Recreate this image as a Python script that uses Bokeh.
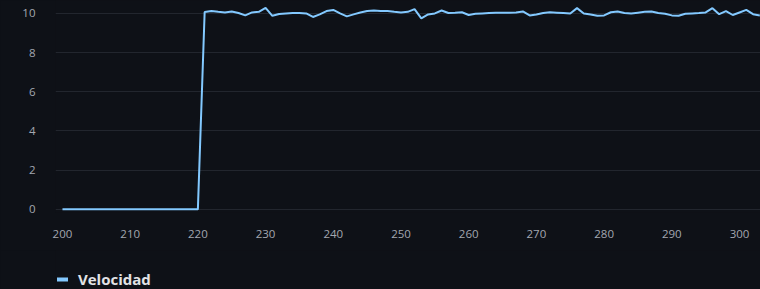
from bokeh.plotting import figure
from bokeh.models import Range1d, Legend, LegendItem, FixedTicker
from bokeh.layouts import column
from bokeh.embed import file_html
from bokeh.resources import INLINE

# ---- data ----
tiempo = list(range(200, 304))
velocidad = [0.0] * 21 + [
    10.07, 10.12, 10.08, 10.05, 10.10, 10.02, 9.90, 10.05, 10.08, 10.28,
    9.88, 9.97, 10.00, 10.02, 10.02, 10.00, 9.82, 9.95, 10.12, 10.18,
    10.00, 9.85, 9.95, 10.05, 10.12, 10.15, 10.13, 10.12, 10.08, 10.05,
    10.08, 10.22, 9.75, 9.95, 10.00, 10.15, 10.02, 10.03, 10.06, 9.92,
    9.98, 10.00, 10.02, 10.03, 10.03, 10.04, 10.05, 10.10, 9.90, 9.95,
    10.02, 10.06, 10.04, 10.02, 10.00, 10.27, 10.00, 9.95, 9.88, 9.90,
    10.06, 10.10, 10.02, 10.00, 10.04, 10.08, 10.10, 10.02, 9.98, 9.90,
    9.88, 9.98, 10.00, 10.02, 10.05, 10.27, 9.96, 10.12, 9.92, 10.05,
    10.18, 9.96, 9.90,
]
serie = "Velocidad"
x_ticks = [200, 210, 220, 230, 240, 250, 260, 270, 280, 290, 300]
y_ticks = [0, 2, 4, 6, 8, 10]

BG = "#0e1117"
LINE = "#83c9ff"

p = figure(width=760, height=250, output_backend="svg", toolbar_location=None,
           x_range=Range1d(198.97, 303.1), y_range=Range1d(-0.16, 10.66),
           background_fill_color=BG, border_fill_color=BG,
           min_border_left=55, min_border_right=0, min_border_top=0,
           min_border_bottom=38)
p.outline_line_color = None
p.styles = {"background-color": BG}

p.line(tiempo[:len(velocidad)], velocidad, line_color=LINE, line_width=2)

for ax in (p.xaxis[0], p.yaxis[0]):
    ax.axis_line_color = None
    ax.major_tick_line_color = None
    ax.minor_tick_line_color = None
    ax.major_tick_out = 0
    ax.major_tick_in = 0
    ax.major_label_text_color = "#a3a7b0"
    ax.major_label_text_font = "Open Sans"
    ax.major_label_text_font_size = "11.5px"

p.xaxis[0].ticker = FixedTicker(ticks=x_ticks)
p.yaxis[0].ticker = FixedTicker(ticks=y_ticks)
p.xaxis[0].major_label_standoff = 17
p.yaxis[0].major_label_standoff = 20

p.xgrid.grid_line_color = None
p.ygrid.grid_line_color = "#22262e"
p.ygrid.ticker = FixedTicker(ticks=y_ticks)

# legend strip (same series, kept out of view; only its legend entry shows)
q = figure(width=760, height=39, output_backend="svg", toolbar_location=None,
           x_axis_type=None, y_axis_type=None,
           x_range=Range1d(0, 1), y_range=Range1d(0, 1),
           background_fill_color=BG, border_fill_color=BG,
           min_border=0)
q.outline_line_color = None
q.styles = {"background-color": BG}
swatch = q.line(tiempo[:len(velocidad)], velocidad, line_color=LINE,
                line_width=4, line_cap="round")
legend = Legend(items=[LegendItem(label=serie, renderers=[swatch])],
                location=(2, 0), orientation="horizontal",
                padding=0, margin=0, spacing=0,
                glyph_width=11, glyph_height=14, label_height=14,
                label_standoff=10,
                label_text_font="Open Sans", label_text_font_size="15px",
                label_text_font_style="bold", label_text_color="#e2e3e6",
                background_fill_alpha=0, border_line_color=None)
q.add_layout(legend, "center")

layout = column(p, q, spacing=0, styles={"background-color": BG})
open("out.html", "w").write(file_html(layout, INLINE))
